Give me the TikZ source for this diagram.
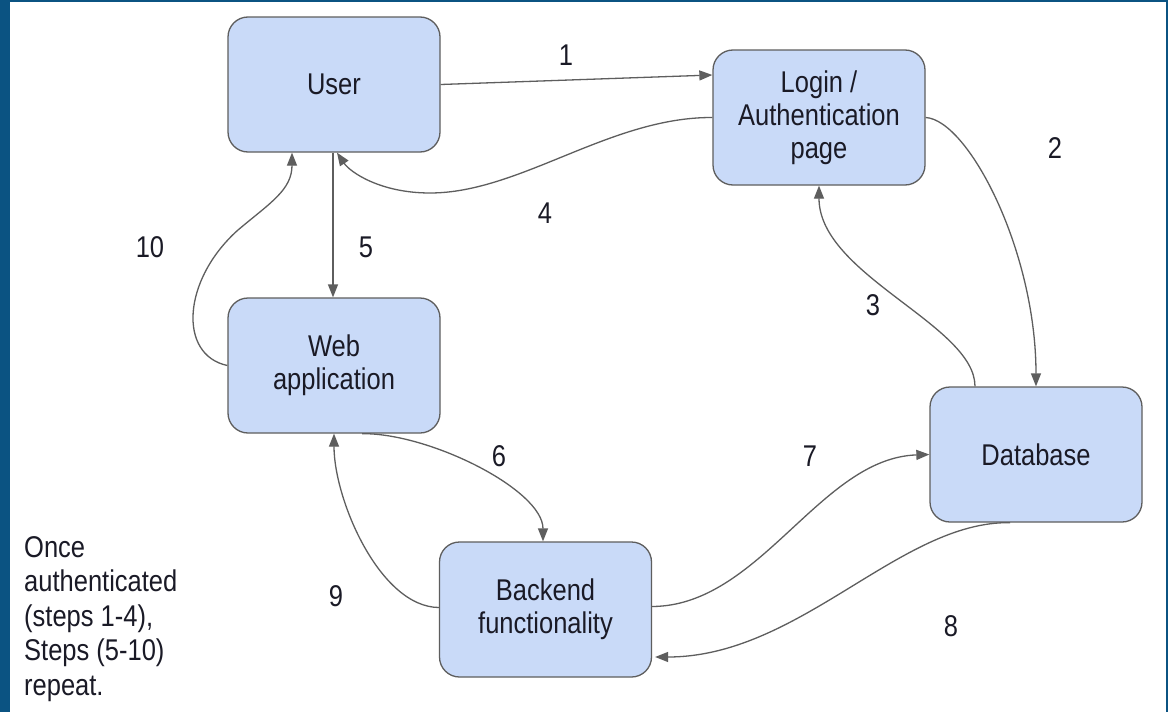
\documentclass[tikz,border=0pt]{standalone}
\usepackage{fontspec}
\setmainfont{Liberation Sans}[FakeStretch=0.85]
\usetikzlibrary{arrows.meta}
\definecolor{frame}{RGB}{11,83,130}
\definecolor{boxfill}{HTML}{C9DAF8}
\definecolor{edge}{HTML}{5E5E5E}
\definecolor{ink}{HTML}{1A1A26}
\begin{document}
\begin{tikzpicture}[x=1pt,y=-1pt,
  box/.style={draw=edge, line width=1.3pt, fill=boxfill, rounded corners=20pt,
    minimum width=212pt, minimum height=135pt, align=center, text=ink,
    font=\fontsize{30}{33}\selectfont, inner sep=0pt},
  conn/.style={draw=edge, line width=1.3pt, -{Triangle[length=13pt,width=10pt]}},
  num/.style={text=ink, font=\fontsize{30}{33}\selectfont, inner sep=0pt}]
\useasboundingbox (0,0) rectangle (1168,712);
\fill[frame] (0,0) rectangle (1168,712);
\fill[white] (10,2) rectangle (1166,712);

\node[box] (user)  at (334,84.5)  {User};
\node[box] (login) at (819,117.5) {Login /\\Authentication\\page};
\node[box] (web)   at (334,365.5) {Web\\application};
\node[box] (db)    at (1036,454.5) {Database};
\node[box] (back)  at (545.5,609.5) {Backend\\functionality};

% 1
\draw[conn] (user.east) -- ([yshift=42.5pt]login.west);
% 2
\draw[conn] (login.east) .. controls (968,120) and (1036,250) .. (db.north);
% 3
\draw[conn] ([xshift=-61pt]db.north) .. controls (975,325) and (819,275) .. (login.south);
% 4
\draw[conn] (login.west) .. controls (610,117) and (520,193) .. (430,193)
  .. controls (380,193) and (350,172) .. ([xshift=3pt]user.south);
% 5
\draw[conn] ([xshift=-1pt]user.south) -- ([xshift=-1pt]web.north);
% 6
\draw[conn] ([xshift=28pt]web.south) .. controls (430,433) and (543,490) .. ([xshift=-2.5pt]back.north);
% 7
\draw[conn] ([yshift=3pt]back.east) .. controls (760,606) and (820,458) .. (db.west);
% 8
\draw[conn] ([xshift=-26pt]db.south) .. controls (900,521) and (800,657) .. ([yshift=-47.5pt,xshift=3pt]back.east);
% 9
\draw[conn] ([yshift=2pt]back.west) .. controls (380,607) and (334,500) .. (web.south);
% 10
\draw[conn] (web.west) .. controls (178,355) and (182,280) .. (238,230)
  .. controls (270,203) and (292,190) .. ([xshift=-42pt]user.south);

\node[num] (n1)  at (566,55)  {1};
\node[num] (n2)  at (1055,148) {2};
\node[num] (n3)  at (873,305) {3};
\node[num] (n4)  at (545,213) {4};
\node[num] (n5)  at (366,247) {5};
\node[num] (n6)  at (499,456) {6};
\node[num] (n7)  at (810,456) {7};
\node[num] (n8)  at (951,626) {8};
\node[num] (n9)  at (336,596) {9};
\node[num] (n10) at (150,247) {10};

\node[text=ink, align=left, anchor=north west, inner sep=0pt,
  font=\fontsize{30}{34.5}\selectfont] (note) at (24,536)
  {Once\\authenticated\\(steps 1-4),\\Steps (5-10)\\repeat.};
\end{tikzpicture}
\end{document}
